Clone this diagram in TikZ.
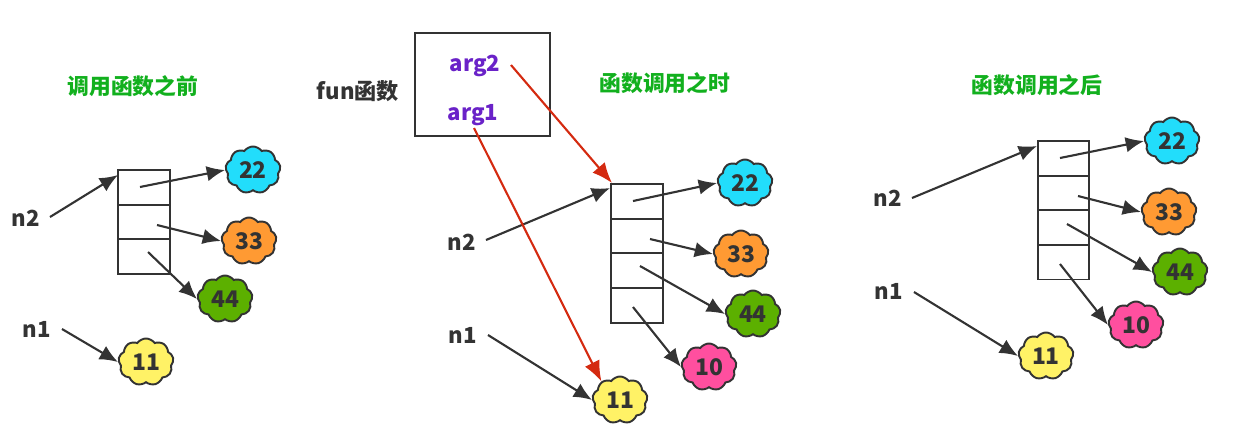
\documentclass[tikz,border=0pt]{standalone}
\usepackage{fontspec}
\setmainfont{Noto Sans CJK SC}
\usetikzlibrary{shapes.symbols,arrows.meta}
\definecolor{inkgray}{HTML}{333333}
\definecolor{titlegreen}{HTML}{12B01E}
\definecolor{argpurple}{HTML}{6A22C8}
\definecolor{refred}{HTML}{D42A10}
\definecolor{puffcyan}{HTML}{22DDFB}
\definecolor{pufforange}{HTML}{FF9A33}
\definecolor{puffgreen}{HTML}{5CB000}
\definecolor{puffpink}{HTML}{FF4F9F}
\definecolor{puffyellow}{HTML}{FFF266}
\tikzset{
 cell/.style={draw=inkgray,line width=.45pt,minimum width=.515cm,minimum height=.348cm,inner sep=0pt},
 puff/.style={cloud,cloud puffs=9,cloud puff arc=110,aspect=1.15,draw=inkgray,line width=.55pt,
  minimum width=.55cm,minimum height=.47cm,inner sep=0pt,text=inkgray,font=\fontsize{6.5}{8}\selectfont\bfseries},
 name label/.style={text=inkgray,inner sep=0pt,font=\fontsize{6.3}{8}\selectfont\bfseries},
 title label/.style={text=titlegreen,inner sep=0pt,font=\fontsize{6.2}{8}\selectfont\bfseries},
 arg label/.style={text=argpurple,inner sep=0pt,font=\fontsize{6.3}{8}\selectfont\bfseries},
 ptr/.style={draw=inkgray,line width=.6pt,-{Latex[length=5.2pt,width=4.4pt]}},
 argptr/.style={draw=refred,line width=.6pt,-{Latex[length=5.8pt,width=4.6pt]}}
}
\begin{document}
\begin{tikzpicture}[x=.01cm,y=-.01cm]
\useasboundingbox (0,0) rectangle (1247,432);
% before the call
\node[title label] (titleA) at (133,86) {调用函数之前};
\node[cell] (a1) at (144,187.5) {};
\node[cell] (a2) at (144,222) {};
\node[cell] (a3) at (144,256.5) {};
\node[puff,fill=puffcyan] (a22) at (253,170) {22};
\node[puff,fill=pufforange] (a33) at (249,241) {33};
\node[puff,fill=puffgreen] (a44) at (225,299) {44};
\node[puff,fill=puffyellow] (a11) at (146,362) {11};
\node[name label] (an2) at (26,218) {n2};
\node[name label] (an1) at (37,329) {n1};
\coordinate (an2s) at (50,217);
\coordinate (an1s) at (62,329);
\coordinate (a1s) at (140,187);
\coordinate (a2s) at (157,225);
\coordinate (a3s) at (148,252);
\coordinate (a1t) at (118,175);
\draw[ptr] (an2s)--(a1t);
\draw[ptr] (a1s)--(a22.west);
\draw[ptr] (a2s)--(a33.west);
\draw[ptr] (a3s)--(a44.west);
\draw[ptr] (an1s)--(a11.west);

% during the call
\node[title label] (titleB) at (665,83) {函数调用之时};
\node[name label] (fun) at (358,91) {fun函数};
\node[draw=inkgray,line width=.5pt,minimum width=1.35cm,minimum height=1.03cm,inner sep=0pt] (funbox) at (482.5,84.5) {};
\node[arg label] (arg2) at (475,66) {arg2};
\node[arg label] (arg1) at (473,115) {arg1};
\node[cell] (b1) at (637,201.5) {};
\node[cell] (b2) at (637,236) {};
\node[cell] (b3) at (637,270.5) {};
\node[cell] (b4) at (637,305.5) {};
\node[puff,fill=puffcyan] (b22) at (745,183) {22};
\node[puff,fill=pufforange] (b33) at (741,254) {33};
\node[puff,fill=puffgreen] (b44) at (753,314) {44};
\node[puff,fill=puffpink] (b10) at (709,367) {10};
\node[puff,fill=puffyellow] (b11) at (620,400) {11};
\node[name label] (bn2) at (462,242) {n2};
\node[name label] (bn1) at (463,335) {n1};
\coordinate (bn2s) at (486,240);
\coordinate (bn1s) at (488,335);
\coordinate (b1s) at (633,201);
\coordinate (b2s) at (650,239);
\coordinate (b3s) at (640,266);
\coordinate (b4s) at (633,307);
\coordinate (b1t) at (610,188);
\coordinate (b1r) at (612,183);
\coordinate (arg2s) at (511,65);
\coordinate (arg1s) at (474,128);
\draw[ptr] (bn2s)--(b1t);
\draw[ptr] (b1s)--(b22.west);
\draw[ptr] (b2s)--(b33.west);
\draw[ptr] (b3s)--(b44.west);
\draw[ptr] (b4s)--(b10.west);
\draw[ptr] (bn1s)--(b11.west);
% the two arguments
\draw[argptr] (arg2s)--(b1r);
\draw[argptr] (arg1s)--(b11.135);

% after the call
\node[title label] (titleC) at (1037,85) {函数调用之后};
\node[cell] (c1) at (1063.5,158.5) {};
\node[cell] (c2) at (1063.5,193) {};
\node[cell] (c3) at (1063.5,227.5) {};
\node[cell] (c4) at (1063.5,262) {};
\node[puff,fill=puffcyan] (c22) at (1172,141) {22};
\node[puff,fill=pufforange] (c33) at (1169,212) {33};
\node[puff,fill=puffgreen] (c44) at (1180,272) {44};
\node[puff,fill=puffpink] (c10) at (1136,325) {10};
\node[puff,fill=puffyellow] (c11) at (1046,356) {11};
\node[name label] (cn2) at (888,198) {n2};
\node[name label] (cn1) at (889,291) {n1};
\coordinate (cn2s) at (912,198);
\coordinate (cn1s) at (914,292);
\coordinate (c1s) at (1060,158);
\coordinate (c2s) at (1078,196);
\coordinate (c3s) at (1067,224);
\coordinate (c4s) at (1060,264);
\coordinate (c1t) at (1037,146);
\draw[ptr] (cn2s)--(c1t);
\draw[ptr] (c1s)--(c22.west);
\draw[ptr] (c2s)--(c33.west);
\draw[ptr] (c3s)--(c44.west);
\draw[ptr] (c4s)--(c10.west);
\draw[ptr] (cn1s)--(c11.west);
\end{tikzpicture}
\end{document}
